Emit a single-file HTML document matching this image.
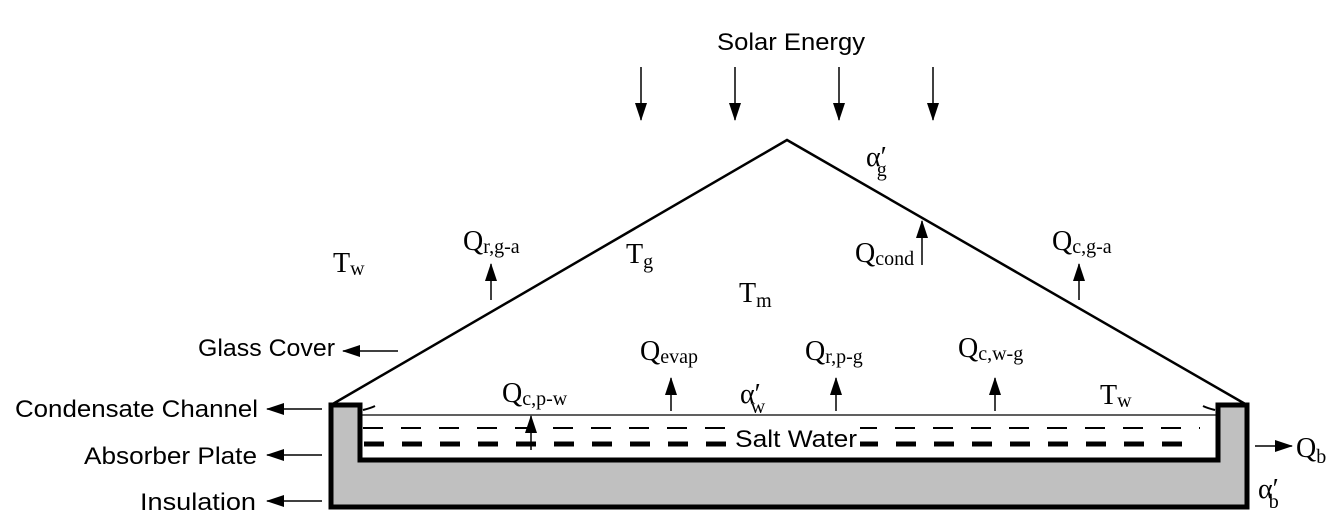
<!DOCTYPE html>
<html><head><meta charset="utf-8"><style>
html,body{margin:0;padding:0;background:#fff;}
svg{display:block}
.s{font-family:"Liberation Sans",sans-serif;font-size:24px;fill:#000}
.r{font-family:"Liberation Serif",serif;fill:#000}
</style></head><body>
<svg width="1334" height="522" viewBox="0 0 1334 522" xmlns="http://www.w3.org/2000/svg">
<defs>
<marker id="a" markerWidth="18" markerHeight="14" refX="17" refY="7" orient="auto" markerUnits="userSpaceOnUse">
<path d="M0,1 L18,7 L0,13 Z" fill="#000"/></marker>
</defs>
<text class="s" x="717" y="50" textLength="148" lengthAdjust="spacingAndGlyphs">Solar Energy</text>
<g stroke="#000" stroke-width="1.5" marker-end="url(#a)">
<line x1="641" y1="67" x2="641" y2="120"/>
<line x1="735" y1="67" x2="735" y2="120"/>
<line x1="839" y1="67" x2="839" y2="120"/>
<line x1="933" y1="67" x2="933" y2="120"/>
</g>
<path d="M331,405 L360,405 L360,460 L1218,460 L1218,405 L1247,405 L1247,507 L331,507 Z" fill="#c0c0c0" stroke="#000" stroke-width="5" stroke-linejoin="miter"/>
<polyline points="331,405 787,140 1247,405" fill="none" stroke="#000" stroke-width="2.5"/>
<line x1="362" y1="415" x2="1216" y2="415" stroke="#000" stroke-width="1.2"/>
<line x1="363" y1="428" x2="1200" y2="428" stroke="#000" stroke-width="2" stroke-dasharray="20 18"/>
<line x1="364" y1="444" x2="1200" y2="444" stroke="#000" stroke-width="5" stroke-dasharray="20 18"/>
<rect x="728" y="424" width="132" height="28" fill="#fff"/>
<text class="s" x="735" y="447" textLength="122" lengthAdjust="spacingAndGlyphs">Salt Water</text>
<path d="M363,410 q8,-2 12,-4" stroke="#000" stroke-width="2" fill="none"/>
<path d="M1215,410 q-8,-2 -12,-4" stroke="#000" stroke-width="2" fill="none"/>
<text class="s" x="198" y="356" textLength="137" lengthAdjust="spacingAndGlyphs">Glass Cover</text>
<text class="s" x="15" y="417" textLength="243" lengthAdjust="spacingAndGlyphs">Condensate Channel</text>
<text class="s" x="84" y="464" textLength="173" lengthAdjust="spacingAndGlyphs">Absorber Plate</text>
<text class="s" x="140" y="510" textLength="116" lengthAdjust="spacingAndGlyphs">Insulation</text>
<g stroke="#000" stroke-width="1.5" marker-end="url(#a)">
<line x1="398" y1="351" x2="343" y2="351"/>
<line x1="322" y1="409" x2="267" y2="409"/>
<line x1="322" y1="455" x2="267" y2="455"/>
<line x1="322" y1="501" x2="267" y2="501"/>
<line x1="1255" y1="446" x2="1292" y2="446"/>
<line x1="491" y1="300" x2="491" y2="264"/>
<line x1="1079" y1="300" x2="1079" y2="264"/>
<line x1="922" y1="265" x2="922" y2="221"/>
<line x1="671" y1="411" x2="671" y2="378"/>
<line x1="836" y1="411" x2="836" y2="378"/>
<line x1="995" y1="411" x2="995" y2="378"/>
<line x1="531" y1="450" x2="531" y2="416"/>
</g>
<g class="r" font-size="28">
<text x="1296" y="457">Q<tspan font-size="20" dy="6">b</tspan></text>
<text x="1258" y="498">α′<tspan font-size="20" dy="10" dx="-10">b</tspan></text>
<text x="866" y="166">α′<tspan font-size="20" dy="10" dx="-10">g</tspan></text>
<text x="740" y="403">α′<tspan font-size="20" dy="10" dx="-10">w</tspan></text>
<text x="333" y="272">T<tspan font-size="20" dy="3">w</tspan></text>
<text x="1100" y="404">T<tspan font-size="20" dy="3">w</tspan></text>
<text x="626" y="263">T<tspan font-size="20" dy="5">g</tspan></text>
<text x="739" y="302">T<tspan font-size="20" dy="5">m</tspan></text>
<text x="463" y="250">Q<tspan font-size="20" dy="3">r,g-a</tspan></text>
<text x="1052" y="250">Q<tspan font-size="20" dy="3">c,g-a</tspan></text>
<text x="855" y="262">Q<tspan font-size="20" dy="3">cond</tspan></text>
<text x="640" y="360">Q<tspan font-size="20" dy="3">evap</tspan></text>
<text x="805" y="360">Q<tspan font-size="20" dy="3">r,p-g</tspan></text>
<text x="958" y="357">Q<tspan font-size="20" dy="3">c,w-g</tspan></text>
<text x="502" y="402">Q<tspan font-size="20" dy="3">c,p-w</tspan></text>
</g>
</svg>
</body></html>
